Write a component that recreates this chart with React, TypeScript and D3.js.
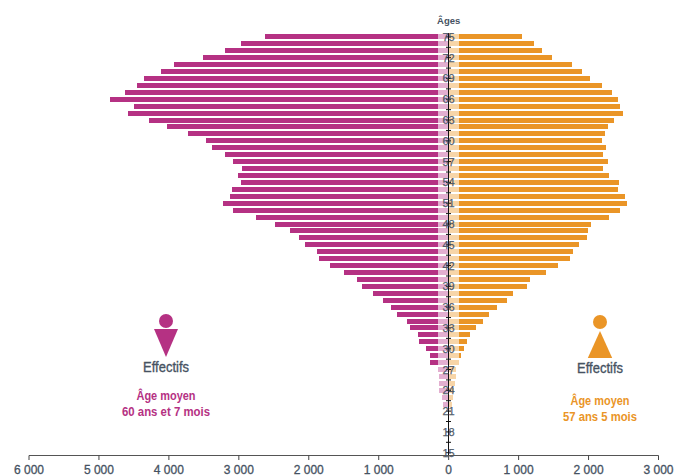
import React from "react";
import * as d3 from "d3";

const W = 677, H = 476;
const ages = d3.range(75, 21, -1);
const women = [2621,2964,3193,3507,3921,4107,4350,4450,4621,4836,4493,4579,4279,4021,3721,3464,3379,3193,3079,2950,3007,2964,3093,3121,3221,3079,2750,2479,2264,2136,2050,1879,1850,1693,1493,1307,1236,1079,936,821,736,593,550,436,421,321,264,264,150,136,136,136,93,79];
const men = [1050,1221,1336,1479,1764,1907,2021,2193,2336,2421,2450,2493,2364,2279,2236,2193,2250,2207,2279,2207,2293,2436,2421,2521,2550,2450,2293,2036,1993,1979,1864,1779,1736,1564,1393,1164,1121,921,836,693,579,493,393,307,264,221,179,150,107,107,93,79,64,50];
const xTicks = [-6000,-5000,-4000,-3000,-2000,-1000,0,1000,2000,3000];
const ageLabels = d3.range(75, 14, -3);
const ageMinorTicks = d3.range(75, 14.5, -1.5);
const paleLimit = 150;

const PURPLE = "#b53183", ORANGE = "#ea9527", PALE_P = "#e3afd0", PALE_O = "#f7d5a8", TEXT = "#465262";
const SANS = "'Liberation Sans', Arial, sans-serif";
const NARROW = "'Liberation Sans Narrow', 'Liberation Sans', sans-serif";

const x = d3.scaleLinear().domain([-6000, 3000]).range([29, 658.5]);
const yTop = d3.scaleLinear().domain([75, 15]).range([34.4, 450.2]);
const yCenter = (a: number) => yTop(a) + 2.5;
const fmt = (v: number) => {
  const a = Math.abs(v);
  return a === 0 ? "0" : `${Math.floor(a / 1000)} 000`;
};
const tri = (cx: number, halfW: number, yBase: number, yTip: number) =>
  d3.line()([[cx - halfW, yBase], [cx + halfW, yBase], [cx, yTip]]) + "Z";

function Legend({ cx, cy, color, triPath, effY, l1Y, l2Y, l2, l2W }: any) {
  return (
    <g textAnchor="middle">
      <circle cx={cx} cy={cy} r={7} fill={color} />
      <path d={triPath} fill={color} />
      <text x={cx} y={effY} fontFamily={NARROW} fontSize={15} fill={TEXT} stroke={TEXT} strokeWidth={0.35} textLength={46} lengthAdjust="spacingAndGlyphs">Effectifs</text>
      <text x={cx} y={l1Y} fontFamily={NARROW} fontWeight="bold" fontSize={13} fill={color} textLength={59} lengthAdjust="spacingAndGlyphs">Âge moyen</text>
      <text x={cx} y={l2Y} fontFamily={NARROW} fontWeight="bold" fontSize={13} fill={color} textLength={l2W} lengthAdjust="spacingAndGlyphs">{l2}</text>
    </g>
  );
}

export default function App() {
  const x0 = x(0);
  return (
    <svg width={W} height={H} viewBox={`0 0 ${W} ${H}`} style={{ position: "absolute", left: 0, top: 0, background: "#fff" }}>
      <g>
        {ages.map((a, i) => {
          const top = Math.round(yTop(a));
          const lLeft = Math.round(x(-women[i]));
          const lPale = Math.round(x(-Math.min(women[i], paleLimit)));
          const rRight = Math.round(x(men[i]));
          const rPale = Math.round(x(Math.min(men[i], paleLimit)));
          return (
            <g key={a}>
              <rect x={lLeft} y={top} width={Math.max(0, lPale - lLeft)} height={5} fill={PURPLE} />
              <rect x={lPale} y={top} width={x0 - lPale} height={5} fill={PALE_P} />
              <rect x={x0} y={top} width={rPale - x0} height={5} fill={PALE_O} />
              <rect x={rPale} y={top} width={Math.max(0, rRight - rPale)} height={5} fill={ORANGE} />
            </g>
          );
        })}
      </g>

      <text x={448.7} y={24} textAnchor="middle" fontFamily={SANS} fontSize={9.5} fontWeight="bold" fill={TEXT}>Âges</text>

      <line x1={448.5} x2={448.5} y1={33} y2={456} stroke="#111" strokeWidth={1} />
      {ageMinorTicks.map((a) => (
        <line key={a} x1={446} x2={451} y1={yCenter(a)} y2={yCenter(a)} stroke="#111" strokeWidth={1} />
      ))}

      <g textAnchor="middle" fontFamily={SANS} fontSize={11} fill={TEXT} fillOpacity={0.9} stroke={TEXT} strokeWidth={0.25}>
        {ageLabels.map((a) => (
          <text key={a} x={448.5} y={yCenter(a) + 4}>{a}</text>
        ))}
      </g>

      <line x1={x(-6000)} x2={x(3000)} y1={455.5} y2={455.5} stroke="#555" strokeWidth={1} />
      {xTicks.map((t) => (
        <g key={t}>
          <line x1={x(t)} x2={x(t)} y1={455.5} y2={460} stroke="#444" strokeWidth={1} />
          <text x={x(t)} y={474} textAnchor="middle" fontFamily={SANS} fontSize={12} fill={TEXT} stroke={TEXT} strokeWidth={0.3}>{fmt(t)}</text>
        </g>
      ))}

      <Legend cx={166} cy={321} color={PURPLE} triPath={tri(166, 12, 329, 357)} effY={372} l1Y={400} l2Y={416} l2="60 ans et 7 mois" l2W={88} />
      <Legend cx={600} cy={322} color={ORANGE} triPath={tri(600, 12.2, 358, 331)} effY={373} l1Y={405} l2Y={421} l2="57 ans 5 mois" l2W={74} />
    </svg>
  );
}
